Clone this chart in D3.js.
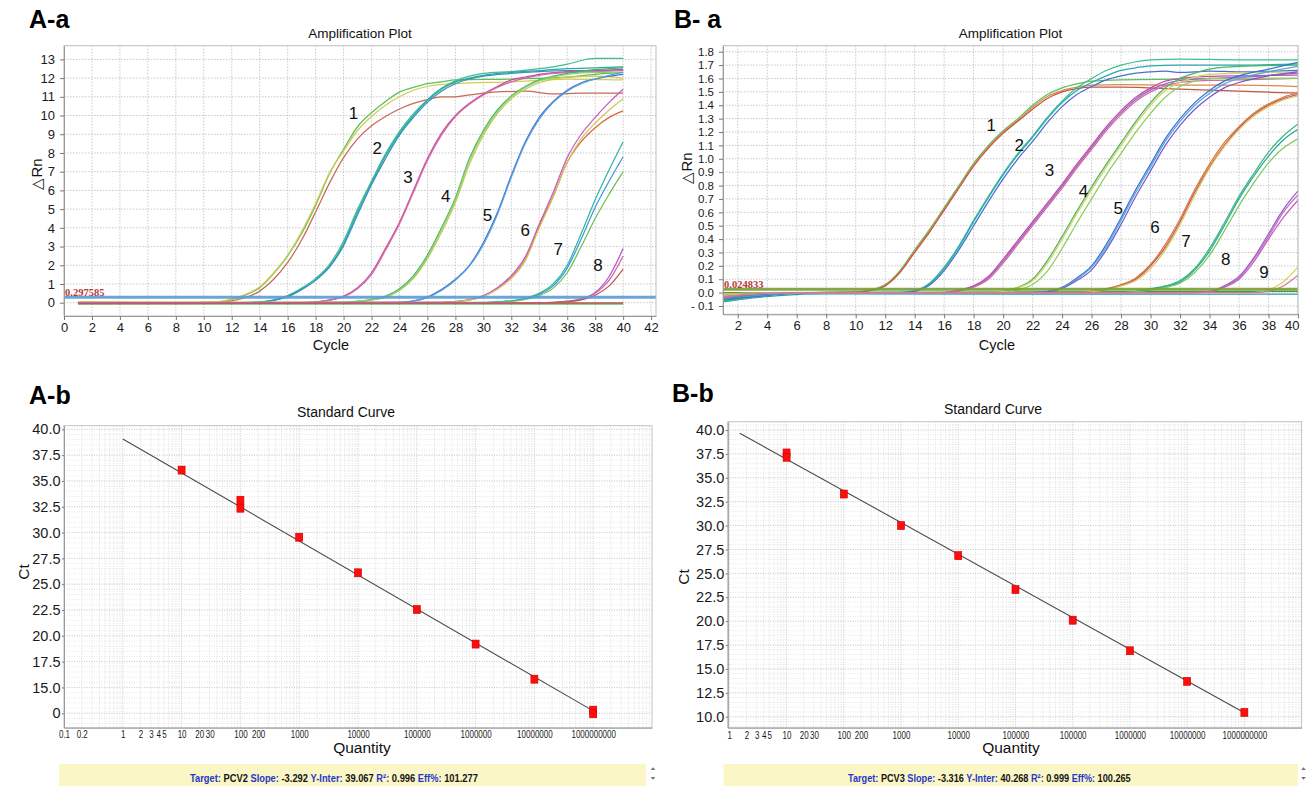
<!DOCTYPE html>
<html>
<head>
<meta charset="utf-8">
<script src="https://cdn.jsdelivr.net/npm/d3@7"></script>
<style>
  body { margin: 0; background: #fff; }
  svg { display: block; }
</style>
</head>
<body>
<svg width="1312" height="786"></svg>
<script>
const svg = d3.select("svg").attr("font-family", "'Liberation Sans', Arial, sans-serif");

// ---------- A-a amplification curves: [cycle, ΔRn] ----------
const ampA0 = [
  [[1,-0.06],[40,-0.06]],
  [[1,-0.02],[10,-0.04],[20,-0.02],[40,-0.01]]
];
const ampA1 = [
  [[1,0.02],[8,0],[11,0.05],[12,0.18],[13,0.42],[14,0.8],[15,1.55],[16,2.5],[17,3.7],[18,5.2],[19,6.9],[20,8.2],[21,9.4],[22,10.15],[23,10.75],[24,11.25],[25,11.5],[26,11.7],[27,11.8],[28,11.9],[32,11.95],[36,12.05],[38,12.2],[40,12.3]],
  [[1,0.06],[8,0.02],[11,0.06],[12,0.2],[13,0.45],[14,0.85],[15,1.6],[16,2.55],[17,3.8],[18,5.3],[19,6.95],[20,8.1],[21,9.2],[22,9.95],[23,10.55],[24,11.0],[25,11.35],[26,11.55],[28,11.7],[32,11.8],[36,11.95],[40,11.9]],
  [[1,-0.03],[10,0],[11,0.02],[12,0.1],[13,0.28],[14,0.62],[15,1.25],[16,2.15],[17,3.35],[18,4.85],[19,6.4],[20,7.75],[21,8.75],[22,9.45],[23,9.95],[24,10.35],[25,10.65],[26,10.85],[27,11.0],[28,11.0],[29,11.1],[30,11.2],[33,11.3],[35,11.15],[37,11.2],[40,11.2]]
];
const ampA2 = [
  [[1,0],[13,0.01],[14,0.05],[15,0.15],[16,0.38],[17,0.78],[18,1.3],[19,2.05],[20,3.3],[21,5.0],[22,6.5],[23,7.95],[24,9.15],[25,10.1],[26,10.85],[27,11.45],[28,11.85],[29,12.1],[30,12.25],[32,12.35],[34,12.5],[35,12.6],[36,12.75],[38,13.05],[40,13.05]],
  [[1,0],[13,0],[14,0.04],[15,0.13],[16,0.35],[17,0.72],[18,1.22],[19,1.95],[20,3.15],[21,4.85],[22,6.4],[23,7.85],[24,9.05],[25,10.0],[26,10.8],[27,11.4],[28,11.8],[29,12.0],[30,12.15],[32,12.3],[34,12.4],[36,12.5],[38,12.55],[40,12.6]],
  [[1,0],[13,0],[14,0.03],[15,0.12],[16,0.32],[17,0.7],[18,1.2],[19,1.9],[20,3.05],[21,4.7],[22,6.3],[23,7.7],[24,8.95],[25,9.9],[26,10.7],[27,11.3],[28,11.7],[29,11.95],[30,12.1],[32,12.25],[34,12.35],[36,12.4],[38,12.4],[40,12.45]]
];
const ampA3 = [
  [[1,0],[17,0],[18,0.05],[19,0.15],[20,0.35],[21,0.8],[22,1.6],[23,2.9],[24,4.3],[25,6.0],[26,7.7],[27,9.05],[28,10.0],[29,10.65],[30,11.15],[31,11.55],[32,11.9],[33,12.05],[34,12.2],[36,12.35],[38,12.4],[40,12.45]],
  [[1,-0.02],[17,0],[18,0.04],[19,0.13],[20,0.32],[21,0.75],[22,1.5],[23,2.8],[24,4.2],[25,5.9],[26,7.6],[27,8.95],[28,9.95],[29,10.6],[30,11.1],[31,11.5],[32,11.8],[33,12.0],[34,12.15],[36,12.3],[38,12.35],[40,12.4]]
];
const ampA4 = [
  [[1,0],[20,0.02],[21,0.08],[22,0.18],[23,0.35],[24,0.75],[25,1.45],[26,2.55],[27,4.0],[28,5.6],[29,7.7],[30,9.2],[31,10.3],[32,11.05],[33,11.55],[34,11.9],[35,12.1],[36,12.25],[38,12.45],[40,12.55]],
  [[1,0.03],[20,0.02],[21,0.06],[22,0.15],[23,0.3],[24,0.65],[25,1.3],[26,2.35],[27,3.75],[28,5.35],[29,7.4],[30,8.95],[31,10.1],[32,10.9],[33,11.4],[34,11.75],[35,11.95],[36,12.05],[38,12.1],[40,12.0]],
  [[1,0],[20,0.01],[21,0.05],[22,0.14],[23,0.3],[24,0.68],[25,1.35],[26,2.45],[27,3.9],[28,5.5],[29,7.6],[30,9.1],[31,10.2],[32,11.0],[33,11.5],[34,11.85],[35,12.05],[36,12.2],[38,12.3],[40,12.3]]
];
const ampA5 = [
  [[1,-0.02],[24,0.02],[25,0.1],[26,0.3],[27,0.7],[28,1.25],[29,2.0],[30,3.2],[31,4.8],[32,6.8],[33,8.6],[34,9.9],[35,10.75],[36,11.35],[37,11.75],[38,11.95],[39,12.1],[40,12.2]],
  [[1,0],[24,0.01],[25,0.08],[26,0.27],[27,0.65],[28,1.2],[29,1.95],[30,3.1],[31,4.7],[32,6.7],[33,8.5],[34,9.8],[35,10.7],[36,11.3],[37,11.7],[38,11.95],[39,12.15],[40,12.3]]
];
const ampA6 = [
  [[1,-0.04],[27,0.02],[28,0.06],[29,0.15],[30,0.35],[31,0.75],[32,1.35],[33,2.3],[34,4.1],[35,5.7],[36,7.5],[37,8.6],[38,9.35],[39,9.9],[40,10.25]],
  [[1,0],[27,0.02],[28,0.07],[29,0.17],[30,0.38],[31,0.8],[32,1.45],[33,2.45],[34,4.2],[35,5.9],[36,7.75],[37,9.0],[38,9.9],[39,10.7],[40,11.4]],
  [[1,0.02],[27,0.01],[28,0.05],[29,0.14],[30,0.33],[31,0.72],[32,1.3],[33,2.25],[34,4.0],[35,5.65],[36,7.5],[37,8.75],[38,9.6],[39,10.3],[40,10.9]]
];
const ampA7 = [
  [[1,0],[30,0.02],[31,0.05],[32,0.1],[33,0.25],[34,0.5],[35,1.0],[36,2.0],[37,3.7],[38,5.5],[39,7.1],[40,8.6]],
  [[1,0],[30,0.01],[31,0.04],[32,0.09],[33,0.22],[34,0.45],[35,0.9],[36,1.85],[37,3.4],[38,5.1],[39,6.5],[40,7.8]],
  [[1,-0.02],[30,0.01],[31,0.03],[32,0.07],[33,0.18],[34,0.38],[35,0.78],[36,1.6],[37,3.0],[38,4.5],[39,5.8],[40,7.0]]
];
const ampA8 = [
  [[1,0],[34,0],[35,0.02],[36,0.08],[37,0.2],[38,0.55],[39,1.4],[40,2.9]],
  [[1,-0.03],[34,0],[35,0.02],[36,0.07],[37,0.18],[38,0.5],[39,1.2],[40,2.5]],
  [[1,-0.05],[34,-0.02],[35,0],[36,0.05],[37,0.15],[38,0.4],[39,0.9],[40,1.8]]
];
const curvesA = [...ampA0, ...ampA1, ...ampA2, ...ampA3, ...ampA4, ...ampA5, ...ampA6, ...ampA7, ...ampA8];
const coloursA = [
  "#3d8c3d", "#c0504d",
  "#58c05a", "#d6cc52", "#c9685a",
  "#3cc08f", "#27a9a4", "#3a8fc4",
  "#c24f9a", "#d66aa8",
  "#3db56a", "#c9c755", "#8fd06a",
  "#3f6fd1", "#56a5dc",
  "#d86a3c", "#c85ac0", "#d0c660",
  "#2fb5a0", "#3f9ad8", "#6cc255",
  "#b25ad0", "#d45fb0", "#b8604a"
];
const groupNamesA = ["1", "2", "3", "4", "5", "6", "7", "8"];
const groupCycleA = [20.7, 22.4, 24.6, 27.3, 30.3, 33.0, 35.35, 38.2];
const groupRnA = [10.1, 8.25, 6.7, 5.66, 4.68, 3.88, 2.85, 2.0];
const xTicksA = [0, 2, 4, 6, 8, 10, 12, 14, 16, 18, 20, 22, 24, 26, 28, 30, 32, 34, 36, 38, 40, 42];
const yTicksA = [0, 1, 2, 3, 4, 5, 6, 7, 8, 9, 10, 11, 12, 13];
const yLabelsA = ["0", "1", "2", "3", "4", "5", "6", "7", "8", "9", "10", "11", "12", "13"];
const thresholdA = 0.297585;

// ---------- B-a amplification curves ----------
const ampB0 = [
  [[1,-0.07],[3,-0.04],[5,-0.02],[8,-0.01],[40,-0.012]],
  [[1,0],[40,0.01]]
];
const ampB1 = [
  [[1,-0.05],[3,-0.025],[5,-0.008],[7,0],[10,0.005],[11,0.02],[12,0.06],[13,0.165],[14,0.32],[15,0.47],[16,0.635],[17,0.8],[18,0.965],[19,1.1],[20,1.21],[21,1.3],[22,1.4],[23,1.48],[24,1.53],[25,1.56],[26,1.58],[28,1.59],[32,1.595],[36,1.6],[40,1.6]],
  [[1,-0.04],[3,-0.02],[5,-0.006],[7,0],[10,0.004],[11,0.018],[12,0.055],[13,0.156],[14,0.31],[15,0.46],[16,0.625],[17,0.79],[18,0.955],[19,1.09],[20,1.2],[21,1.29],[22,1.385],[23,1.465],[24,1.51],[25,1.535],[26,1.55],[28,1.555],[32,1.55],[36,1.55],[40,1.54]],
  [[1,-0.03],[3,-0.015],[5,-0.005],[7,0],[10,0.003],[11,0.015],[12,0.05],[13,0.15],[14,0.3],[15,0.45],[16,0.615],[17,0.78],[18,0.945],[19,1.08],[20,1.19],[21,1.28],[22,1.37],[23,1.45],[24,1.5],[25,1.525],[26,1.535],[28,1.535],[32,1.52],[36,1.505],[40,1.49]]
];
const ampB2 = [
  [[1,-0.065],[3,-0.035],[5,-0.012],[7,0],[13,0.002],[14,0.015],[15,0.07],[16,0.19],[17,0.35],[18,0.54],[19,0.72],[20,0.89],[21,1.04],[22,1.17],[23,1.31],[24,1.43],[25,1.53],[26,1.6],[27,1.66],[28,1.7],[29,1.725],[30,1.74],[32,1.745],[36,1.74],[40,1.74]],
  [[1,-0.06],[3,-0.03],[5,-0.01],[7,0],[13,0.001],[14,0.012],[15,0.065],[16,0.18],[17,0.34],[18,0.53],[19,0.71],[20,0.88],[21,1.03],[22,1.16],[23,1.3],[24,1.42],[25,1.51],[26,1.57],[27,1.62],[28,1.66],[29,1.68],[30,1.695],[32,1.7],[36,1.7],[40,1.71]],
  [[1,-0.055],[3,-0.028],[5,-0.01],[7,0],[13,0],[14,0.01],[15,0.055],[16,0.165],[17,0.32],[18,0.5],[19,0.68],[20,0.85],[21,1.0],[22,1.13],[23,1.27],[24,1.39],[25,1.48],[26,1.54],[27,1.59],[28,1.62],[29,1.64],[30,1.65],[31,1.655],[32,1.645],[34,1.655],[36,1.65],[40,1.66]]
];
const ampB3 = [
  [[1,-0.03],[4,-0.01],[6,0],[16,0],[17,0.02],[18,0.05],[19,0.12],[20,0.25],[21,0.39],[22,0.53],[23,0.67],[24,0.81],[25,0.96],[26,1.1],[27,1.24],[28,1.36],[29,1.46],[30,1.53],[31,1.58],[32,1.6],[34,1.615],[36,1.62],[40,1.625]],
  [[1,-0.04],[4,-0.015],[6,0],[16,0],[17,0.015],[18,0.045],[19,0.11],[20,0.235],[21,0.375],[22,0.515],[23,0.655],[24,0.795],[25,0.945],[26,1.085],[27,1.225],[28,1.345],[29,1.445],[30,1.515],[31,1.56],[32,1.585],[34,1.6],[36,1.61],[40,1.64]],
  [[1,-0.02],[4,-0.005],[6,0],[16,0],[17,0.012],[18,0.04],[19,0.1],[20,0.22],[21,0.36],[22,0.5],[23,0.64],[24,0.78],[25,0.93],[26,1.07],[27,1.21],[28,1.33],[29,1.43],[30,1.5],[31,1.545],[32,1.57],[34,1.585],[36,1.59],[40,1.6]]
];
const ampB4 = [
  [[1,-0.02],[5,0],[19,0],[20,0.01],[21,0.04],[22,0.1],[23,0.24],[24,0.42],[25,0.61],[26,0.79],[27,0.96],[28,1.12],[29,1.28],[30,1.42],[31,1.53],[32,1.6],[33,1.64],[34,1.67],[36,1.69],[40,1.7]],
  [[1,-0.03],[5,0],[19,0],[20,0.008],[21,0.035],[22,0.09],[23,0.22],[24,0.4],[25,0.59],[26,0.77],[27,0.94],[28,1.1],[29,1.26],[30,1.4],[31,1.51],[32,1.57],[33,1.61],[34,1.63],[36,1.64],[40,1.65]],
  [[1,-0.01],[5,0],[20,0],[21,0.02],[22,0.06],[23,0.16],[24,0.33],[25,0.52],[26,0.7],[27,0.88],[28,1.04],[29,1.2],[30,1.34],[31,1.46],[32,1.54],[33,1.58],[34,1.6],[36,1.6],[40,1.6]]
];
const ampB5 = [
  [[1,-0.05],[4,-0.02],[6,0],[22,0],[23,0.01],[24,0.04],[25,0.11],[26,0.2],[27,0.36],[28,0.56],[29,0.77],[30,0.96],[31,1.15],[32,1.3],[33,1.42],[34,1.51],[35,1.58],[36,1.62],[38,1.67],[40,1.72]],
  [[1,-0.04],[4,-0.015],[6,0],[22,0],[23,0.008],[24,0.035],[25,0.1],[26,0.19],[27,0.34],[28,0.54],[29,0.75],[30,0.94],[31,1.13],[32,1.28],[33,1.4],[34,1.49],[35,1.56],[36,1.6],[38,1.65],[40,1.69]],
  [[1,-0.03],[4,-0.01],[6,0],[22,0],[23,0.006],[24,0.03],[25,0.09],[26,0.17],[27,0.32],[28,0.51],[29,0.72],[30,0.91],[31,1.1],[32,1.25],[33,1.37],[34,1.46],[35,1.53],[36,1.57],[38,1.62],[40,1.65]]
];
const ampB6 = [
  [[1,-0.02],[5,0],[25,0],[26,0.01],[27,0.03],[28,0.06],[29,0.11],[30,0.21],[31,0.36],[32,0.55],[33,0.77],[34,0.96],[35,1.12],[36,1.24],[37,1.34],[38,1.41],[39,1.46],[40,1.49]],
  [[1,-0.03],[5,0],[25,0],[26,0.008],[27,0.025],[28,0.055],[29,0.1],[30,0.2],[31,0.34],[32,0.53],[33,0.75],[34,0.94],[35,1.1],[36,1.23],[37,1.33],[38,1.4],[39,1.45],[40,1.48]],
  [[1,-0.01],[5,0],[25,0],[26,0.005],[27,0.02],[28,0.05],[29,0.09],[30,0.18],[31,0.32],[32,0.51],[33,0.73],[34,0.93],[35,1.09],[36,1.22],[37,1.32],[38,1.39],[39,1.44],[40,1.47]]
];
const ampB7 = [
  [[1,-0.04],[5,0],[28,0],[29,0.01],[30,0.03],[31,0.05],[32,0.09],[33,0.18],[34,0.33],[35,0.52],[36,0.72],[37,0.89],[38,1.05],[39,1.17],[40,1.26]],
  [[1,-0.05],[5,0],[28,0],[29,0.008],[30,0.025],[31,0.045],[32,0.08],[33,0.17],[34,0.31],[35,0.5],[36,0.7],[37,0.87],[38,1.02],[39,1.14],[40,1.22]],
  [[1,-0.03],[5,0],[28,0],[29,0.005],[30,0.02],[31,0.04],[32,0.07],[33,0.15],[34,0.28],[35,0.46],[36,0.65],[37,0.82],[38,0.97],[39,1.08],[40,1.15]]
];
const ampB8 = [
  [[1,-0.03],[5,0],[33,0],[34,0.01],[35,0.05],[36,0.12],[37,0.26],[38,0.44],[39,0.62],[40,0.76]],
  [[1,-0.02],[5,0],[33,0],[34,0.008],[35,0.045],[36,0.11],[37,0.25],[38,0.42],[39,0.6],[40,0.73]],
  [[1,-0.04],[5,0],[33,0],[34,0.006],[35,0.04],[36,0.1],[37,0.23],[38,0.4],[39,0.56],[40,0.69]]
];
const ampB9 = [
  [[1,-0.02],[5,0],[37,0],[38,0.02],[39,0.08],[40,0.19]],
  [[1,-0.03],[5,0],[37,0],[38,0.01],[39,0.05],[40,0.13]]
];
const curvesB = [...ampB0, ...ampB1, ...ampB2, ...ampB3, ...ampB4, ...ampB5, ...ampB6, ...ampB7, ...ampB8, ...ampB9];
const coloursB = [
  "#2a9ab0", "#4a9a3a",
  "#5cc05c", "#d98a4a", "#c0584a",
  "#3ec08c", "#2aaab0", "#4a6fd0",
  "#c04fa0", "#9a5cc8", "#d46aa0",
  "#45b860", "#d4d060", "#8ad060",
  "#3f6fd1", "#4fa8dd", "#7a5cc8",
  "#d97845", "#c45a4a", "#d6c060",
  "#3cb87a", "#2aa8a0", "#7acc5a",
  "#9a5cc8", "#b070d0", "#c860b0",
  "#d6cf5a", "#d07aa0"
];
const groupNamesB = ["1", "2", "3", "4", "5", "6", "7", "8", "9"];
const groupCycleB = [19.2, 21.1, 23.15, 25.45, 27.8, 30.3, 32.4, 35.1, 37.7];
const groupRnB = [1.245, 1.1, 0.91, 0.754, 0.625, 0.49, 0.38, 0.25, 0.152];
const xTicksB = [2, 4, 6, 8, 10, 12, 14, 16, 18, 20, 22, 24, 26, 28, 30, 32, 34, 36, 38, 40];
const yTicksB = [-0.1, 0, 0.1, 0.2, 0.3, 0.4, 0.5, 0.6, 0.7, 0.8, 0.9, 1.0, 1.1, 1.2, 1.3, 1.4, 1.5, 1.6, 1.7, 1.8];
const yLabelsB = ["- 0.1", "0.0", "0.1", "0.2", "0.3", "0.4", "0.5", "0.6", "0.7", "0.8", "0.9", "1.0", "1.1", "1.2", "1.3", "1.4", "1.5", "1.6", "1.7", "1.8"];
const thresholdB = 0.024833;

// ---------- standard curves ----------
const stdQtyA = [10, 100, 100, 1e3, 1e4, 1e5, 1e6, 1e7, 1e8, 1e8];
const stdCtA = [36.05, 33.13, 32.36, 29.55, 26.1, 22.55, 19.2, 15.8, 12.8, 12.45];
const stdQtyB = [10, 10, 100, 1e3, 1e4, 1e5, 1e6, 1e7, 1e8, 1e9];
const stdCtB = [37.6, 37.15, 33.3, 30.0, 26.85, 23.3, 20.1, 16.9, 13.7, 10.45];
const stdXTicksA = [0.1, 0.2, 1, 2, 3, 4, 5, 10, 20, 30, 100, 200, 1e3, 1e4, 1e5, 1e6, 1e7, 1e8];
const stdXLabelsA = ["0.1", "0.2", "1", "2", "3", "4", "5", "10", "20", "30", "100", "200", "1000", "10000", "100000", "1000000", "10000000", "1000000000"];
const stdXTicksB = [1, 2, 3, 4, 5, 10, 20, 30, 100, 200, 1e3, 1e4, 1e5, 1e6, 1e7, 1e8, 1e9];
const stdXLabelsB = ["1", "2", "3", "4", "5", "10", "20", "30", "100", "200", "1000", "10000", "100000", "100000", "1000000", "10000000", "1000000000"];
const stdYTicksA = [12.5, 15, 17.5, 20, 22.5, 25, 27.5, 30, 32.5, 35, 37.5, 40];
const stdYLabelsA = ["0", "15.0", "17.5", "20.0", "22.5", "25.0", "27.5", "30.0", "32.5", "35.0", "37.5", "40.0"];
const stdYTicksB = [10, 12.5, 15, 17.5, 20, 22.5, 25, 27.5, 30, 32.5, 35, 37.5, 40];
const stdYLabelsB = ["10.0", "12.5", "15.0", "17.5", "20.0", "22.5", "25.0", "27.5", "30.0", "32.5", "35.0", "37.5", "40.0"];
const fitTargets = ["PCV2", "PCV3"];
const fitSlopes = [-3.292, -3.316];
const fitIntercepts = [39.067, 40.268];
const fitR2 = ["0.996", "0.999"];
const fitEff = ["101.277", "100.265"];
const fitQtyA = [1, 1e8];
const fitQtyB = [1.52, 1e9];
const statusKeys = ["Target:", "Slope:", "Y-Inter:", "R\u00b2:", "Eff%:"];

// ---------- drawing helpers ----------
function styleAxis(g, size) {
  g.attr("font-family", "'Liberation Sans', Arial, sans-serif").attr("font-size", size);
  g.select(".domain").attr("stroke", "#9a9a9a");
  g.selectAll(".tick line").attr("stroke", "#777");
  g.selectAll(".tick text").attr("fill", "#1a1a1a");
}

function ampPlot(p) {
  const x = d3.scaleLinear().domain(p.xDomain).range([p.left, p.right]);
  const y = d3.scaleLinear().domain(p.yDomain).range([p.bottom, p.top]);
  const g = svg.append("g");

  const grid = g.append("g").attr("stroke", "#c8c8c8").attr("stroke-dasharray", "1.5,1.5");
  grid.selectAll("line.gx").data(p.xTicks).join("line").attr("class", "gx")
    .attr("x1", d => x(d)).attr("x2", d => x(d)).attr("y1", p.top).attr("y2", p.bottom);
  grid.selectAll("line.gy").data(p.yTicks).join("line").attr("class", "gy")
    .attr("x1", p.left).attr("x2", p.right).attr("y1", d => y(d)).attr("y2", d => y(d));

  svg.append("clipPath").attr("id", "clip" + p.id)
    .append("rect").attr("x", p.left).attr("y", p.top)
    .attr("width", p.right - p.left).attr("height", p.bottom - p.top);

  const line = d3.line().x(d => x(d[0])).y(d => y(d[1])).curve(d3.curveMonotoneX);
  const plot = g.append("g").attr("clip-path", `url(#clip${p.id})`);
  plot.append("g").attr("fill", "none").attr("stroke-width", 1.25)
    .selectAll("path").data(p.curves).join("path")
    .attr("d", line).attr("stroke", (d, i) => p.colours[i]);

  plot.append("line")
    .attr("x1", p.left).attr("x2", p.right)
    .attr("y1", y(p.threshold)).attr("y2", y(p.threshold))
    .attr("stroke", p.thresholdColour).attr("stroke-width", 3).attr("opacity", 0.9);

  g.append("text").attr("x", p.left + 1).attr("y", y(p.threshold) - 1)
    .attr("font-family", "'Liberation Serif', 'Times New Roman', serif")
    .attr("font-weight", "bold").attr("font-size", 10.5).attr("fill", "#b23a3a")
    .text(p.threshold.toString());

  g.append("g").selectAll("text").data(p.groupNames).join("text")
    .attr("x", (d, i) => x(p.groupCycle[i])).attr("y", (d, i) => y(p.groupRn[i]))
    .attr("text-anchor", "middle").attr("dominant-baseline", "central")
    .attr("font-size", 17).attr("fill", "#111").text(d => d);

  g.append("rect").attr("x", p.left).attr("y", p.top)
    .attr("width", p.right - p.left).attr("height", p.bottom - p.top)
    .attr("fill", "none").attr("stroke", "#bdbdbd");

  const ax = g.append("g").attr("transform", `translate(0,${p.bottom})`)
    .call(d3.axisBottom(x).tickValues(p.xTicks).tickFormat(d => d).tickSize(4).tickPadding(2.5).tickSizeOuter(0));
  styleAxis(ax, 13);
  if (p.lastTickEnd) {
    ax.selectAll(".tick text").filter(d => d === p.xTicks[p.xTicks.length - 1])
      .attr("text-anchor", "end").attr("dx", 1);
  }

  const ay = g.append("g").attr("transform", `translate(${p.left},0)`)
    .call(d3.axisLeft(y).tickValues(p.yTicks).tickFormat((d, i) => p.yLabels[i]).tickSize(4).tickPadding(5).tickSizeOuter(0));
  styleAxis(ay, p.yFont);

  g.append("text").attr("x", (p.left + p.right) / 2).attr("y", p.top - 8)
    .attr("text-anchor", "middle").attr("font-size", 13.5).attr("fill", "#111").text("Amplification Plot");
  g.append("text").attr("x", p.cycleX).attr("y", 350)
    .attr("text-anchor", "middle").attr("font-size", 14.5).attr("fill", "#111").text("Cycle");
  g.append("text").attr("transform", `translate(${p.rnX},${p.rnY}) rotate(-90)`)
    .attr("text-anchor", "middle").attr("dominant-baseline", "central")
    .attr("font-size", 15).attr("fill", "#111").text("\u25b3Rn");
}

function stdPlot(p) {
  const x = d3.scaleLog().domain(p.xDomain).range([p.left, p.right]);
  const y = d3.scaleLinear().domain(p.yDomain).range([p.bottom, p.top]);
  const g = svg.append("g");

  const lo = Math.floor(Math.log10(p.xDomain[0]));
  const hi = Math.ceil(Math.log10(p.xDomain[1]));
  const minorX = [];
  for (let e = lo; e < hi; e++) {
    for (let k = 1; k < 10; k++) {
      const v = k * Math.pow(10, e);
      if (v >= p.xDomain[0] && v <= p.xDomain[1]) minorX.push(v);
    }
  }
  const minorY = d3.range(Math.ceil(p.yDomain[0] * 2) / 2, p.yDomain[1], 0.5);

  const grid = g.append("g").attr("stroke-dasharray", "1,1.5");
  grid.selectAll("line.my").data(minorY).join("line").attr("class", "my")
    .attr("x1", p.left).attr("x2", p.right).attr("y1", d => y(d)).attr("y2", d => y(d))
    .attr("stroke", "#e6e6e6");
  grid.selectAll("line.mx").data(minorX).join("line").attr("class", "mx")
    .attr("x1", d => x(d)).attr("x2", d => x(d)).attr("y1", p.top).attr("y2", p.bottom)
    .attr("stroke", d => Math.abs(Math.log10(d) % 1) < 1e-9 ? "#c6c6c6" : "#dedede");
  grid.selectAll("line.gy").data(p.yTicks).join("line").attr("class", "gy")
    .attr("x1", p.left).attr("x2", p.right).attr("y1", d => y(d)).attr("y2", d => y(d))
    .attr("stroke", "#cdcdcd");

  g.append("rect").attr("x", p.left).attr("y", p.top)
    .attr("width", p.right - p.left).attr("height", p.bottom - p.top)
    .attr("fill", "none").attr("stroke", "#c4c4c4");

  g.append("line")
    .attr("x1", x(p.fitQty[0])).attr("x2", x(p.fitQty[1]))
    .attr("y1", y(p.intercept + p.slope * Math.log10(p.fitQty[0])))
    .attr("y2", y(p.intercept + p.slope * Math.log10(p.fitQty[1])))
    .attr("stroke", "#4a4a4a").attr("stroke-width", 1.1);

  g.append("g").selectAll("rect").data(p.qty).join("rect")
    .attr("x", d => x(d) - 3.5).attr("y", (d, i) => y(p.ct[i]) - 4)
    .attr("width", 7).attr("height", 8)
    .attr("fill", "#ff0d0d").attr("stroke", "#c80000").attr("stroke-width", 0.6);

  const ax = g.append("g").attr("transform", `translate(0,${p.bottom})`)
    .call(d3.axisBottom(x).tickValues(p.xTicks).tickFormat((d, i) => p.xLabels[i]).tickSize(0).tickPadding(p.xPad).tickSizeOuter(0));
  styleAxis(ax, 10);
  // the instrument software uses a narrow face for these labels
  ax.selectAll(".tick text").each(function () {
    const w = this.getComputedTextLength();
    d3.select(this).attr("textLength", w * 0.8).attr("lengthAdjust", "spacingAndGlyphs");
  });

  const ay = g.append("g").attr("transform", `translate(${p.left},0)`)
    .call(d3.axisLeft(y).tickValues(p.yTicks).tickFormat((d, i) => p.yLabels[i]).tickSize(2).tickPadding(1.5).tickSizeOuter(0));
  styleAxis(ay, 14.5);

  g.append("text").attr("x", p.titleX).attr("y", p.titleY)
    .attr("text-anchor", "middle").attr("font-size", 14).attr("fill", "#111").text("Standard Curve");
  g.append("text").attr("x", p.qtyX).attr("y", 753)
    .attr("text-anchor", "middle").attr("font-size", 15.5).attr("fill", "#111").text("Quantity");
  g.append("text").attr("transform", `translate(${p.ctX},${p.ctY}) rotate(-90)`)
    .attr("text-anchor", "middle").attr("dominant-baseline", "central")
    .attr("font-size", 15.5).attr("fill", "#111").text("Ct");
}

function statusBar(p) {
  const g = svg.append("g");
  g.append("rect").attr("x", p.x0).attr("y", 764).attr("width", p.x1 - p.x0).attr("height", 22)
    .attr("fill", "#faf6c6");
  const t = g.append("text").attr("x", 0).attr("y", 0)
    .attr("font-size", 11).attr("font-weight", "bold");
  p.values.forEach((v, i) => {
    t.append("tspan").attr("fill", "#2836c8").text(statusKeys[i] + " ");
    t.append("tspan").attr("fill", "#151515").text(v + (i < p.values.length - 1 ? " " : ""));
  });
  const w = t.node().getComputedTextLength();
  t.attr("transform", `translate(${p.textX},782) scale(${p.textW / w},1)`);
  const tri = d3.symbol(d3.symbolTriangle, 14);
  g.append("path").attr("d", tri).attr("transform", `translate(${p.arrowX},769) scale(0.8,0.55)`).attr("fill", "#707070");
  g.append("path").attr("d", tri).attr("transform", `translate(${p.arrowX},778) rotate(180) scale(0.8,0.55)`).attr("fill", "#707070");
}

// ---------- panels ----------
ampPlot({
  id: "A", left: 64, right: 656, top: 45.7, bottom: 316,
  xDomain: [0, 42.35], yDomain: [-0.71, 13.73],
  xTicks: xTicksA, yTicks: yTicksA, yLabels: yLabelsA, yFont: 13,
  curves: curvesA, colours: coloursA,
  threshold: thresholdA, thresholdColour: "#5b9bd5",
  groupNames: groupNamesA, groupCycle: groupCycleA, groupRn: groupRnA,
  cycleX: 331, rnX: 36, rnY: 174, lastTickEnd: false
});

ampPlot({
  id: "B", left: 723, right: 1298, top: 45.7, bottom: 314.3,
  xDomain: [1, 40], yDomain: [-0.162, 1.845],
  xTicks: xTicksB, yTicks: yTicksB, yLabels: yLabelsB, yFont: 11.5,
  curves: curvesB, colours: coloursB,
  threshold: thresholdB, thresholdColour: "#7a9e34",
  groupNames: groupNamesB, groupCycle: groupCycleB, groupRn: groupRnB,
  cycleX: 997, rnX: 686, rnY: 168, lastTickEnd: true
});

stdPlot({
  left: 64, right: 652, top: 425.7, bottom: 727.7,
  xDomain: [0.1, 1e9], yDomain: [11.1, 40.35],
  xTicks: stdXTicksA, xLabels: stdXLabelsA, yTicks: stdYTicksA, yLabels: stdYLabelsA, xPad: 3,
  qty: stdQtyA, ct: stdCtA,
  slope: fitSlopes[0], intercept: fitIntercepts[0], fitQty: fitQtyA,
  titleX: 346, titleY: 417, qtyX: 362, ctX: 23, ctY: 572
});

stdPlot({
  left: 727.8, right: 1301.6, top: 421.7, bottom: 727.7,
  xDomain: [0.94, 1e10], yDomain: [8.85, 40.87],
  xTicks: stdXTicksB, xLabels: stdXLabelsB, yTicks: stdYTicksB, yLabels: stdYLabelsB, xPad: 4,
  qty: stdQtyB, ct: stdCtB,
  slope: fitSlopes[1], intercept: fitIntercepts[1], fitQty: fitQtyB,
  titleX: 993, titleY: 414, qtyX: 1011, ctX: 683, ctY: 577
});

statusBar({ x0: 59, x1: 646, textX: 190, textW: 288, arrowX: 653,
  values: [fitTargets[0], fitSlopes[0].toFixed(3), fitIntercepts[0].toFixed(3), fitR2[0], fitEff[0]] });
statusBar({ x0: 723.5, x1: 1298, textX: 848, textW: 283, arrowX: 1303.5,
  values: [fitTargets[1], fitSlopes[1].toFixed(3), fitIntercepts[1].toFixed(3), fitR2[1], fitEff[1]] });

// panel letters
const panelNames = ["A-a", "B- a", "A-b", "B-b"];
const panelX = [29, 674, 29, 672];
const panelY = [28, 27.5, 404, 402];
svg.append("g").selectAll("text").data(panelNames).join("text")
  .attr("x", (d, i) => panelX[i]).attr("y", (d, i) => panelY[i])
  .attr("font-size", 25).attr("font-weight", "bold").attr("fill", "#000")
  .text(d => d);
</script>
</body>
</html>
